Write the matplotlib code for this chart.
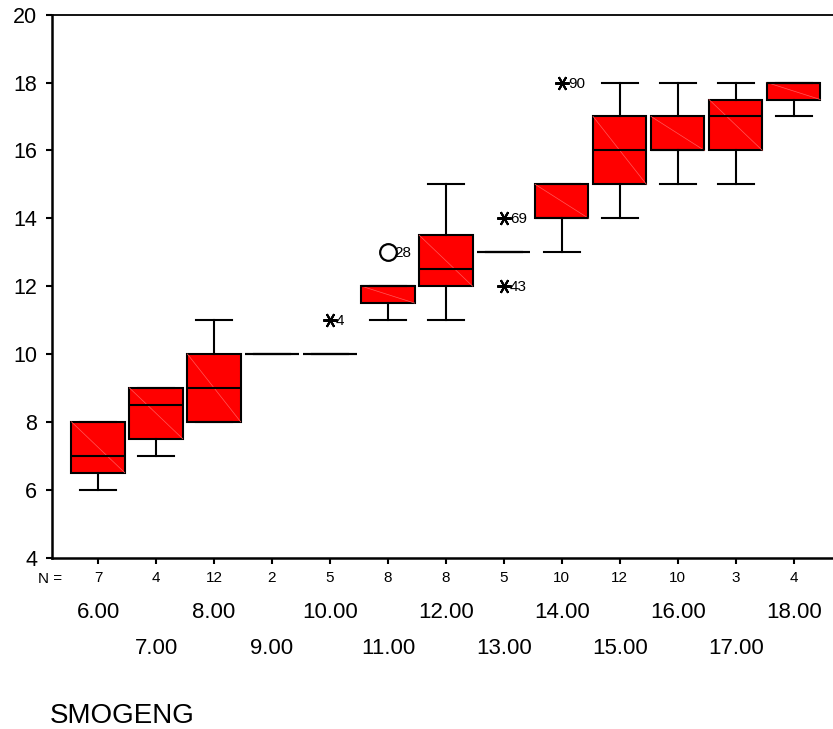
import matplotlib
matplotlib.use('Agg')
import matplotlib.pyplot as plt

plt.rcParams['font.family'] = ['Liberation Sans', 'DejaVu Sans']

# SMOGENG groups and their box summaries
cats = ['6.00', '7.00', '8.00', '9.00', '10.00', '11.00', '12.00',
        '13.00', '14.00', '15.00', '16.00', '17.00', '18.00']
n_vals = [7, 4, 12, 2, 5, 8, 8, 5, 10, 12, 10, 3, 4]
q1 = [6.5, 7.5, 8, 10, 10, 11.5, 12, 13, 14, 15, 16, 16, 17.5]
med = [7, 8.5, 9, 10, 10, 12, 12.5, 13, 14, 16, 16, 17, 18]
q3 = [8, 9, 10, 10, 10, 12, 13.5, 13, 15, 17, 17, 17.5, 18]
wlo = [6, 7, 8, 10, 10, 11, 11, 13, 13, 14, 15, 15, 17]
whi = [8, 9, 11, 10, 10, 12, 15, 13, 15, 18, 18, 18, 18]

# outliers: group position (1-based), value, case number, kind
out_pos = [5, 6, 8, 8, 9]
out_val = [11, 13, 14, 12, 18]
out_case = ['4', '28', '69', '43', '90']
out_kind = ['extreme', 'outlier', 'extreme', 'extreme', 'extreme']

W, H = 833, 729
fig = plt.figure(figsize=(W / 100, H / 100), dpi=100)
ax_l, ax_r, ax_t, ax_b = 51.7, 840, 14.7, 557.5
ax = fig.add_axes([ax_l / W, 1 - ax_b / H, (ax_r - ax_l) / W, (ax_b - ax_t) / H])

pos = list(range(1, len(cats) + 1))
stats = []
for i in range(len(cats)):
    stats.append(dict(med=med[i], q1=q1[i], q3=q3[i], whislo=wlo[i], whishi=whi[i], fliers=[]))

bw = 0.92
ax.bxp(stats, positions=pos, widths=bw, capwidths=0.62, patch_artist=True,
       showfliers=False,
       boxprops=dict(facecolor='#ff0000', edgecolor='black', linewidth=1.5, zorder=2),
       medianprops=dict(color='black', linewidth=1.5, zorder=2.3),
       whiskerprops=dict(color='black', linewidth=1.5),
       capprops=dict(color='black', linewidth=1.5))

# faint diagonal inside each box (SPSS fill artifact)
for i, p in enumerate(pos):
    if q3[i] > q1[i]:
        ax.plot([p - bw / 2, p + bw / 2], [q3[i], q1[i]], color='#ff5a5a',
                lw=0.5, zorder=2.1)

for p, v, c, k in zip(out_pos, out_val, out_case, out_kind):
    if k == 'outlier':
        ax.plot(p, v, marker='o', ms=12, mfc='white', mec='black', mew=1.6,
                ls='none', zorder=3)
    else:
        ax.plot(p, v, marker=(6, 2, 90), ms=10.5, mec='black', mew=1.5,
                ls='none', zorder=3)
    ax.annotate(c, (p, v), xytext=(6, -1), textcoords='offset pixels',
                ha='left', va='center', fontsize=11)

ax.set_xlim(0.2, 13.8)
ax.set_ylim(4, 20)
ax.set_yticks(range(4, 21, 2))
ax.set_xticks(pos)
ax.set_xticklabels([str(n) for n in n_vals], fontsize=11)
ax.tick_params(axis='y', direction='out', length=4, width=1.5, pad=6.5, labelsize=15.5)
ax.tick_params(axis='x', direction='out', length=4.5, width=1.5, pad=5.5)

ax.spines['right'].set_visible(False)
ax.spines['left'].set_linewidth(1.8)
ax.spines['bottom'].set_linewidth(1.8)
ax.spines['top'].set_linewidth(1.3)

tr = ax.get_xaxis_transform()
for i, (p, c) in enumerate(zip(pos, cats)):
    yy = (ax_b - 612) / (ax_b - ax_t) if i % 2 == 0 else (ax_b - 649) / (ax_b - ax_t)
    ax.text(p, yy, c, transform=tr, ha='center', va='center', fontsize=16)

fig.text(62 / W, 1 - 579 / H, 'N =', ha='right', va='center', fontsize=11)
fig.text(50 / W, 1 - 716 / H, 'SMOGENG', ha='left', va='center', fontsize=20)

fig.savefig('out.png', dpi=100)
